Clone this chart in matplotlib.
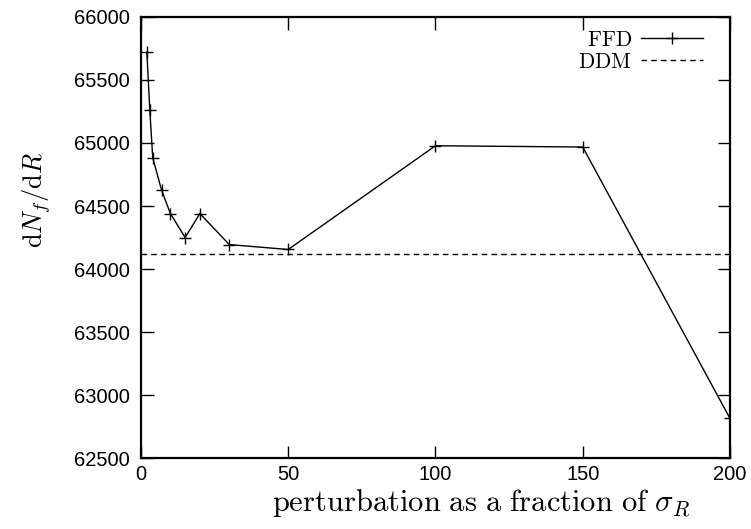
import matplotlib
matplotlib.use('Agg')
import matplotlib.pyplot as plt
import numpy as np

# perturbation size (fraction of sigma_R) and finite-difference derivative
perturbation = [2, 3, 4, 7, 10, 15, 20, 30, 50, 100, 150, 200]
ffd = [65720, 65263, 64882, 64626, 64440, 64250, 64440, 64194, 64155, 64978, 64968, 62815]
ddm_value = 64120

plt.rcParams['font.family'] = ['Liberation Sans', 'DejaVu Sans']
plt.rcParams['mathtext.fontset'] = 'cm'

fig = plt.figure(figsize=(7.51, 5.29), dpi=100)
ax = fig.add_axes([0.1877, 0.134, 0.7843, 0.834])

ax.plot(perturbation, ffd, color='black', lw=1.0, marker='+', ms=9, mew=1.0,
        label=r'$\mathrm{FFD}$')
ax.axhline(ddm_value, color='black', lw=1.0, ls=(0, (4, 3)), label=r'$\mathrm{DDM}$')

ax.set_xlim(0, 200)
ax.set_ylim(62500, 66000)
ax.set_xticks([0, 50, 100, 150, 200])
ax.set_yticks(np.arange(62500, 66001, 500))

ax.tick_params(direction='in', length=9, width=1.0, top=True, right=True,
               labelsize=14.5, pad=8)
ax.tick_params(axis='x', pad=5)
for s in ax.spines.values():
    s.set_linewidth(1.6)

ax.set_xlabel(r'$\mathrm{perturbation\ as\ a\ fraction\ of\ }\sigma_R$', fontsize=22)
ax.set_ylabel(r'$\mathrm{d}N_f/\mathrm{d}R$', fontsize=19)
ax.yaxis.set_label_coords(-0.15, 0.585)
ax.xaxis.set_label_coords(0.578, -0.066)

ax.legend(loc='upper right', frameon=False, markerfirst=False, fontsize=15.5,
          handlelength=2.9, handletextpad=0.4, labelspacing=0.05,
          borderaxespad=0.3, bbox_to_anchor=(0.98, 1.005))

fig.savefig('out.png', dpi=100)
